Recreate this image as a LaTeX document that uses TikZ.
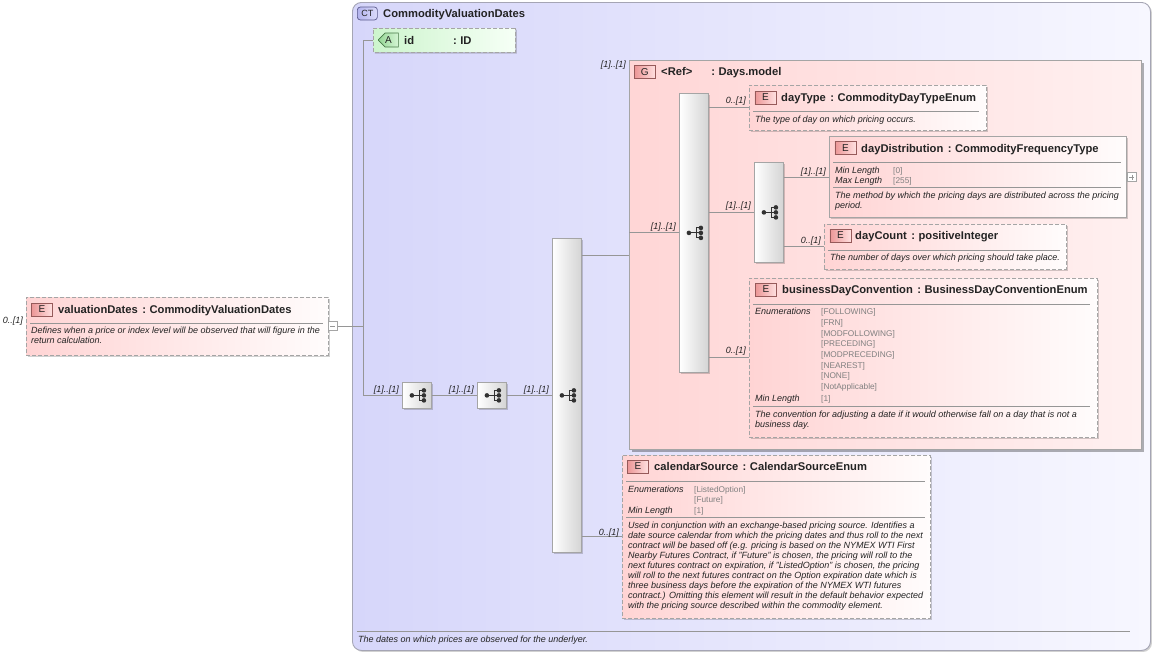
\documentclass[tikz,border=0pt]{standalone}
\usepackage{fontspec}
\setmainfont{Liberation Sans}
\usetikzlibrary{shapes.misc,shadows,calc}
\definecolor{ctL}{RGB}{214,214,250}
\definecolor{ctR}{RGB}{247,247,255}
\definecolor{ctB}{RGB}{165,165,180}
\definecolor{grpL}{RGB}{255,214,214}
\definecolor{grpR}{RGB}{255,240,240}
\definecolor{elL}{RGB}{255,212,212}
\definecolor{elR}{RGB}{255,252,252}
\definecolor{boxB}{RGB}{165,165,165}
\definecolor{lineC}{RGB}{150,150,150}
\definecolor{bdgL}{RGB}{236,150,150}
\definecolor{bdgR}{RGB}{255,224,224}
\definecolor{bdgB}{RGB}{150,90,90}
\definecolor{ctbL}{RGB}{180,180,238}
\definecolor{ctbR}{RGB}{218,218,250}
\definecolor{ctbB}{RGB}{90,90,140}
\definecolor{atL}{RGB}{205,245,205}
\definecolor{atR}{RGB}{246,255,246}
\definecolor{atbL}{RGB}{150,215,150}
\definecolor{atbR}{RGB}{212,245,212}
\definecolor{atbB}{RGB}{70,120,70}
\definecolor{seqR}{RGB}{212,212,212}
\definecolor{txt}{RGB}{35,35,35}
\definecolor{enumC}{RGB}{128,128,128}
\definecolor{icn}{RGB}{50,50,50}
\newcommand{\tsep}{\hspace{4.5pt}:\hspace{3.5pt}}
\newcommand{\seqicn}[1]{%
  \draw[icn,line width=1.1pt] ($(#1)+(-5,0)$) -- ($(#1)+(7,0)$)
     ($(#1)+(2.5,-5)$) -- ($(#1)+(2.5,5)$)
     ($(#1)+(2.5,-5)$) -- ($(#1)+(7,-5)$)
     ($(#1)+(2.5,5)$) -- ($(#1)+(7,5)$);
  \fill[icn] ($(#1)+(-5,0)$) circle[radius=2.3pt] ($(#1)+(7,-5)$) circle[radius=2.3pt]
     ($(#1)+(7,0)$) circle[radius=2.3pt] ($(#1)+(7,5)$) circle[radius=2.3pt];}
\tikzset{
  shad/.style={drop shadow={shadow xshift=1.5pt,shadow yshift=-1.5pt,fill=black,opacity=0.18}},
  ctbox/.style={anchor=north west,inner sep=0,rounded corners=9pt,left color=ctL,right color=ctR,draw=ctB,line width=0.9pt,shad},
  grpbox/.style={anchor=north west,inner sep=0,left color=grpL,right color=grpR,draw=boxB,line width=0.9pt,
     drop shadow={shadow xshift=3pt,shadow yshift=-3pt,fill=black,opacity=0.3}},
  elbox/.style={anchor=north west,inner sep=0,left color=elL,right color=elR,draw=boxB,line width=0.8pt,dash pattern=on 4pt off 2pt,shad},
  elsolid/.style={anchor=north west,inner sep=0,left color=elL,right color=elR,draw=boxB,line width=0.9pt,shad},
  seqbox/.style={anchor=north west,inner sep=0,left color=white,right color=seqR,draw=boxB,line width=0.8pt,shad},
  ebadge/.style={anchor=west,inner sep=0,minimum width=21pt,minimum height=13pt,left color=bdgL,right color=bdgR,draw=bdgB,line width=0.7pt,
     font=\fontsize{10}{11}\selectfont,text=txt},
  ctbadge/.style={anchor=west,inner sep=0,minimum width=20pt,minimum height=13pt,rounded corners=3pt,left color=ctbL,right color=ctbR,draw=ctbB,line width=0.7pt,
     font=\fontsize{9}{10}\selectfont,text=txt},
  attr/.style={anchor=west,inner sep=0,chamfered rectangle,chamfered rectangle corners={north west,south west},chamfered rectangle xsep=6pt,
     left color=atL,right color=atR,draw=boxB,line width=0.8pt,dash pattern=on 4pt off 2pt,shad},
  abadge/.style={anchor=west,inner sep=0,chamfered rectangle,chamfered rectangle corners={north west,south west},chamfered rectangle xsep=4pt,
     minimum width=20pt,minimum height=14pt,left color=atbL,right color=atbR,draw=atbB,line width=0.7pt,font=\fontsize{10}{11}\selectfont,text=txt},
  pmbox/.style={anchor=west,inner sep=0,minimum width=9pt,minimum height=9pt,fill=white,draw=boxB,line width=0.6pt},
  ttl/.style={anchor=base west,inner sep=0,font=\fontsize{11.2}{13}\selectfont\bfseries,text=txt},
  dsc/.style={anchor=north west,inner sep=0,align=left,font=\fontsize{9}{10.1}\selectfont\itshape,text=txt},
  dsc1/.style={anchor=base west,inner sep=0,font=\fontsize{9}{10.1}\selectfont\itshape,text=txt},
  lbl/.style={anchor=base west,inner sep=0,font=\fontsize{9}{10}\selectfont\itshape,text=txt},
  enumv/.style={anchor=north west,inner sep=0,align=left,font=\fontsize{8.3}{10.7}\selectfont,text=enumC},
  enumv1/.style={anchor=base west,inner sep=0,font=\fontsize{8.3}{10}\selectfont,text=enumC},
  mult/.style={anchor=base east,inner sep=0,font=\fontsize{9}{10}\selectfont\itshape,text=txt},
  conn/.style={draw=lineC,line width=0.9pt},
  sepl/.style={draw=lineC,line width=0.8pt}
}
\begin{document}
\begin{tikzpicture}[x=1pt,y=-1pt]
\useasboundingbox (0,0) rectangle (1155,653);
% complex type frame
\node[ctbox,minimum width=798pt,minimum height=648pt] (ct) at (352,2) {};
\node[ctbadge] (ctb) at (357,13.5) {CT};
\node[ttl] (ctt) at (383,17) {CommodityValuationDates};
\draw[sepl] (357,631) -- (1130,631);
\node[dsc1] (ctd) at (358,642) {The dates on which prices are observed for the underlyer.};
% valuationDates
\node[elbox,minimum width=302pt,minimum height=58pt] (vd) at (26,297) {};
\node[ebadge] (vdE) at (31,309.5) {E};
\node[ttl] (vdt) at (58,313) {valuationDates\tsep CommodityValuationDates};
\draw[sepl] (30,323) -- (323,323);
\node[dsc] (vdd) at (31,326.4) {Defines when a price or index level will be observed that will figure in the\\return calculation.};
\node[mult] (vdm) at (23,323) {0..[1]};
\node[pmbox] (vdmin) at (328,326) {};
\draw[lineC,line width=0.6pt] ($(vdmin)+(-2.5,0)$) -- ($(vdmin)+(2.5,0)$);
\coordinate (trunk) at (363,326);
% id attribute
\node[attr,minimum width=142pt,minimum height=24pt] (ida) at (373,40) {};
\node[abadge] (idA) at (378,40) {A};
\node[ttl] (idt) at (404,44) {id\hspace{39pt}:\hspace{3.5pt}ID};
% sequences
\node[seqbox,minimum width=29pt,minimum height=26pt] (seq1) at (402,382) {};
\node[seqbox,minimum width=29pt,minimum height=26pt] (seq2) at (477,382) {};
\node[seqbox,minimum width=29pt,minimum height=314pt] (seq3) at (552,238) {};
\seqicn{seq1}\seqicn{seq2}\seqicn{seq3}
% Days.model group
\node[grpbox,minimum width=512pt,minimum height=389pt] (days) at (629,60) {};
\node[ebadge] (daysG) at (634,72) {G};
\node[ttl] (dayst) at (661,75) {<Ref>\hspace{19pt}:\hspace{3.5pt}Days.model};
\node[mult] (daysm) at (626,67) {[1]..[1]};
\node[seqbox,minimum width=29pt,minimum height=279pt] (seq4) at (679,93) {};
\node[seqbox,minimum width=29pt,minimum height=100pt] (seq5) at (754,162) {};
\seqicn{seq4}\seqicn{seq5}
% dayType
\node[elbox,minimum width=237pt,minimum height=45pt] (dt) at (749,85) {};
\node[ebadge] (dtE) at (754.5,97.5) {E};
\node[ttl] (dtt) at (781,101) {dayType\tsep CommodityDayTypeEnum};
\draw[sepl] (753,111) -- (979,111);
\node[dsc1] (dtd) at (755,122) {The type of day on which pricing occurs.};
% dayDistribution
\node[elsolid,minimum width=297pt,minimum height=81pt] (dd) at (829,136) {};
\node[ebadge] (ddE) at (834.5,148) {E};
\node[ttl] (ddt) at (861,152) {dayDistribution\tsep CommodityFrequencyType};
\draw[sepl] (833,162) -- (1121,162);
\node[lbl] (ddl1) at (835,173) {Min Length};
\node[enumv1] (ddv1) at (893,173) {[0]};
\node[lbl] (ddl2) at (835,183) {Max Length};
\node[enumv1] (ddv2) at (893,183) {[255]};
\draw[sepl] (833,187) -- (1121,187);
\node[dsc] (ddd) at (835,191.4) {The method by which the pricing days are distributed across the pricing\\period.};
\node[pmbox] (ddplus) at (1127,177) {};
\draw[lineC,line width=0.6pt] ($(ddplus)+(-2.5,0)$) -- ($(ddplus)+(2.5,0)$) ($(ddplus)+(0,-2.5)$) -- ($(ddplus)+(0,2.5)$);
% dayCount
\node[elbox,minimum width=242pt,minimum height=45pt] (dc) at (824,224) {};
\node[ebadge] (dcE) at (829.5,235.5) {E};
\node[ttl] (dct) at (855,239) {dayCount\tsep positiveInteger};
\draw[sepl] (828,250) -- (1060,250);
\node[dsc1] (dcd) at (830,260) {The number of days over which pricing should take place.};
% businessDayConvention
\node[elbox,minimum width=348pt,minimum height=159pt] (bdc) at (749,278) {};
\node[ebadge] (bdcE) at (755,289.5) {E};
\node[ttl] (bdct) at (782,293) {businessDayConvention\tsep BusinessDayConventionEnum};
\draw[sepl] (753,304) -- (1090,304);
\node[lbl] (bdcl1) at (755,314.5) {Enumerations};
\node[enumv] (bdcv1) at (821,308.5) {[FOLLOWING]\\{}[FRN]\\{}[MODFOLLOWING]\\{}[PRECEDING]\\{}[MODPRECEDING]\\{}[NEAREST]\\{}[NONE]\\{}[NotApplicable]};
\node[lbl] (bdcl2) at (755,401.5) {Min Length};
\node[enumv1] (bdcv2) at (821,401.5) {[1]};
\draw[sepl] (753,406) -- (1090,406);
\node[dsc] (bdcd) at (755,411) {The convention for adjusting a date if it would otherwise fall on a day that is not a\\business day.};
% calendarSource
\node[elbox,minimum width=308pt,minimum height=163pt] (cs) at (622,455) {};
\node[ebadge] (csE) at (627,466.5) {E};
\node[ttl] (cst) at (654,470) {calendarSource\tsep CalendarSourceEnum};
\draw[sepl] (626,481.5) -- (925,481.5);
\node[lbl] (csl1) at (628,492) {Enumerations};
\node[enumv,font=\fontsize{8.3}{10.2}\selectfont] (csv1) at (694,486) {[ListedOption]\\{}[Future]};
\node[lbl] (csl2) at (628,513) {Min Length};
\node[enumv1] (csv2) at (694,513) {[1]};
\draw[sepl] (626,517.5) -- (925,517.5);
\node[dsc] (csd) at (628,521.4) {Used in conjunction with an exchange-based pricing source. Identifies a\\date source calendar from which the pricing dates and thus roll to the next\\contract will be based off (e.g. pricing is based on the NYMEX WTI First\\Nearby Futures Contract, if "Future" is chosen, the pricing will roll to the\\next futures contract on expiration, if "ListedOption" is chosen, the pricing\\will roll to the next futures contract on the Option expiration date which is\\three business days before the expiration of the NYMEX WTI futures\\contract.) Omitting this element will result in the default behavior expected\\with the pricing source described within the commodity element.};
% connectors
\draw[conn] (vdmin.east) -- (trunk);
\draw[conn] (trunk |- ida.west) -- (ida.west);
\draw[conn] (trunk |- ida.west) -- (trunk |- seq1.west) -- (seq1.west);
\draw[conn] (seq1.east) -- (seq2.west);
\draw[conn] (seq2.east) -- (seq3.west);
\draw[conn] (seq3.east |- days.west) -- (days.west);
\draw[conn] (seq3.east |- cs.west) -- (cs.west);
\draw[conn] (days.west |- seq4.west) -- (seq4.west);
\draw[conn] (seq4.east |- dt.west) -- (dt.west);
\draw[conn] (seq4.east |- seq5.west) -- (seq5.west);
\draw[conn] (seq4.east |- bdc.west) -- (bdc.west);
\draw[conn] (seq5.east |- dd.west) -- (dd.west);
\draw[conn] (seq5.east |- dc.west) -- (dc.west);
% multiplicities
\node[mult] (m1) at (399,392) {[1]..[1]};
\node[mult] (m2) at (474,392) {[1]..[1]};
\node[mult] (m3) at (549,392) {[1]..[1]};
\node[mult] (m4) at (676,229) {[1]..[1]};
\node[mult] (m5) at (746,103) {0..[1]};
\node[mult] (m6) at (751,208) {[1]..[1]};
\node[mult] (m7) at (746,353) {0..[1]};
\node[mult] (m8) at (826,174) {[1]..[1]};
\node[mult] (m9) at (821,243) {0..[1]};
\node[mult] (m10) at (619,535) {0..[1]};
\end{tikzpicture}
\end{document}
